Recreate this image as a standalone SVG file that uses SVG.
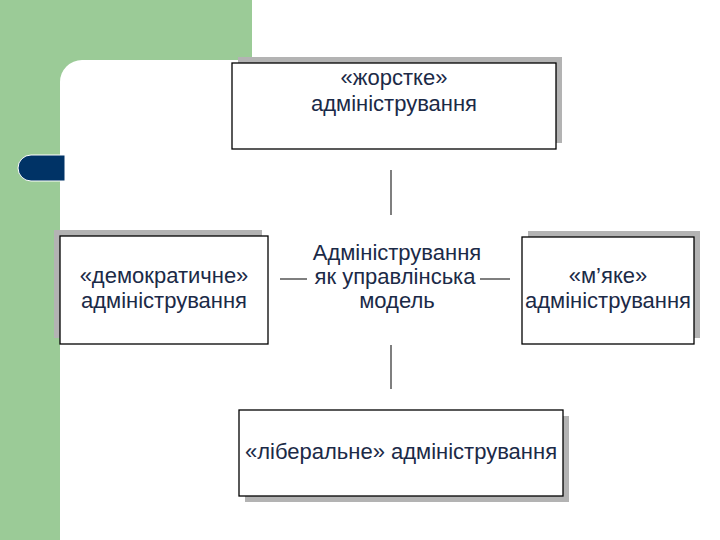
<svg xmlns="http://www.w3.org/2000/svg" width="720" height="540" viewBox="0 0 720 540">
<style>
.shadow{fill:#b3b3b3}
.box{fill:#ffffff;stroke:#000000;stroke-width:1.3}
.t{font-family:"Liberation Sans",Arial,sans-serif;font-size:22px;fill:#1b2a47;text-anchor:middle}
.conn{stroke:#7f7f7f;stroke-width:2;fill:none}
</style>
<rect x="0" y="0" width="720" height="540" fill="#ffffff"/>
<g id="background">
<rect x="0" y="0" width="252" height="60" fill="#9bcb97"/>
<rect x="0" y="0" width="60" height="540" fill="#9bcb97"/>
<path d="M60 60 L82 60 A22 22 0 0 0 60 82 Z" fill="#9bcb97"/>
<path d="M31 155 L65 155 L65 181 L31 181 A13 13 0 0 1 31 155 Z" fill="#003366" stroke="#ffffff" stroke-width="1"/>
</g>
<g id="connectors">
<line class="conn" x1="391" y1="170" x2="391" y2="215"/>
<line class="conn" x1="391" y1="345" x2="391" y2="389"/>
<line class="conn" x1="280" y1="279" x2="307" y2="279"/>
<line class="conn" x1="480" y1="279" x2="510" y2="279"/>
</g>
<g id="node-top">
<rect class="shadow" x="238" y="57" width="324" height="86"/>
<rect class="box" x="232" y="63" width="324" height="86"/>
<text class="t" x="394" y="85">«жорстке»</text>
<text class="t" x="394" y="111">адміністрування</text>
</g>
<g id="node-left">
<rect class="shadow" x="54" y="230" width="208" height="108"/>
<rect class="box" x="60" y="236" width="208" height="108"/>
<text class="t" x="164" y="283">«демократичне»</text>
<text class="t" x="164" y="308">адміністрування</text>
</g>
<g id="node-center">
<text class="t" x="397" y="260">Адміністрування</text>
<text class="t" x="395" y="284">як управлінська</text>
<text class="t" x="397" y="308">модель</text>
</g>
<g id="node-right">
<rect class="shadow" x="528" y="231" width="172" height="107"/>
<rect class="box" x="522" y="237" width="172" height="107"/>
<text class="t" x="608" y="283">«м’яке»</text>
<text class="t" x="608" y="308">адміністрування</text>
</g>
<g id="node-bottom">
<rect class="shadow" x="245" y="416" width="324" height="86"/>
<rect class="box" x="239" y="410" width="324" height="86"/>
<text class="t" x="401" y="459">«ліберальне» адміністрування</text>
</g>
</svg>
